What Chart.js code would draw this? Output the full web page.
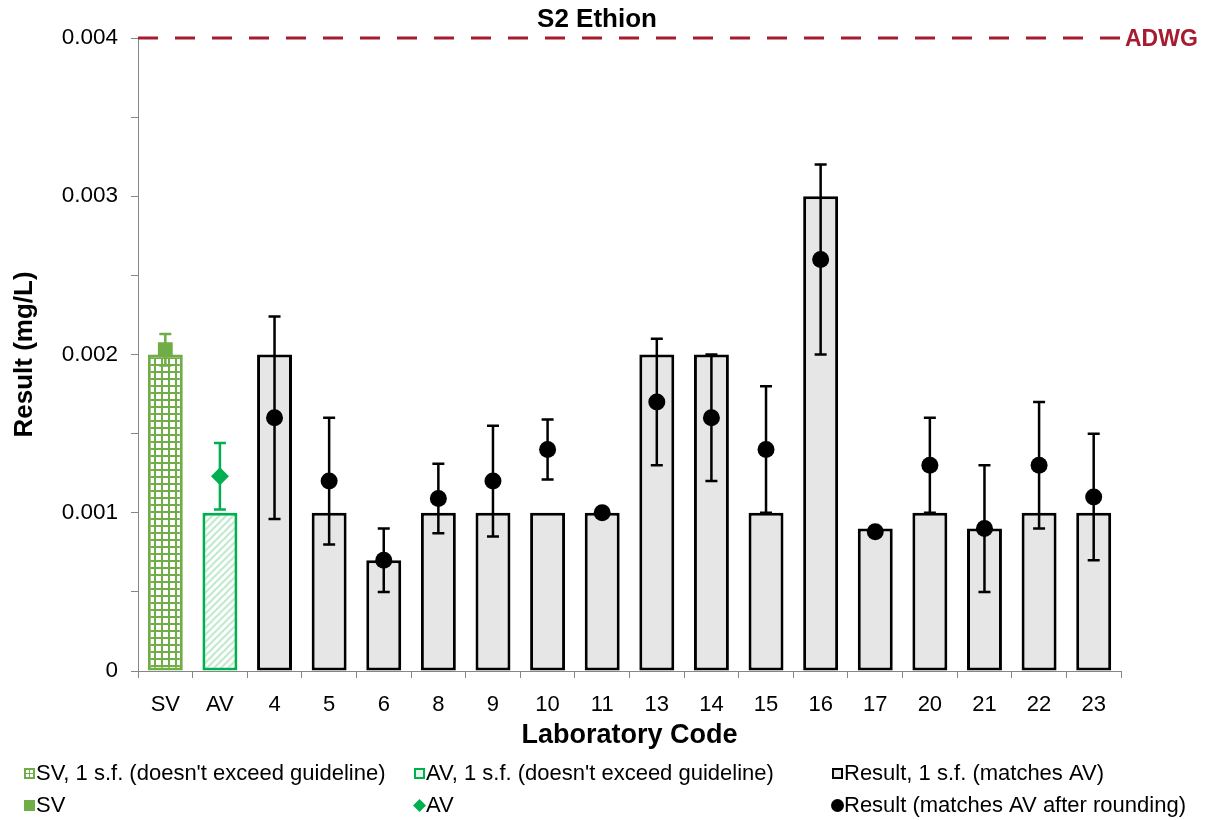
<!DOCTYPE html>
<html>
<head>
<meta charset="utf-8">
<title>S2 Ethion</title>
<script src="https://cdn.jsdelivr.net/npm/chart.js@4.4.1/dist/chart.umd.min.js"></script>
<style>
  html, body { margin: 0; padding: 0; background: #fff; }
  #wrap { width: 1208px; height: 820px; }
</style>
</head>
<body>
<div id="wrap"><canvas id="chart" width="1208" height="820"></canvas></div>
<script>
// --- data -----------------------------------------------------------------
const labCodes = ['4', '5', '6', '8', '9', '10', '11', '13', '14', '15', '16', '17', '20', '21', '22', '23'];
const categories = ['SV', 'AV', ...labCodes];

const svValue = 0.00203;
const svUncertainty = 0.0001;
const svRounded = 0.002;

const avValue = 0.00123;
const avUncertainty = 0.00021;
const avRounded = 0.001;

const labResults = [0.0016, 0.0012, 0.0007, 0.00109, 0.0012, 0.0014, 0.001, 0.0017, 0.0016, 0.0014, 0.0026, 0.00088, 0.0013, 0.0009, 0.0013, 0.0011];
const labRounded = [0.002, 0.001, 0.0007, 0.001, 0.001, 0.001, 0.001, 0.002, 0.002, 0.001, 0.003, 0.0009, 0.001, 0.0009, 0.001, 0.001];
const labUncertainty = [0.00064, 0.0004, 0.0002, 0.00022, 0.00035, 0.00019, null, 0.0004, 0.0004, 0.0004, 0.0006, null, 0.0003, 0.0004, 0.0004, 0.0004];

const adwg = 0.004;
const yTicks = [0, 0.001, 0.002, 0.003, 0.004];

// --- styles ---------------------------------------------------------------
const FONT = '"Liberation Sans", Arial, sans-serif';
const SV_GREEN = '#70AD47';
const AV_GREEN = '#00B050';
const ADWG_RED = '#A51C30';
const AXIS_GREY = '#868686';

Chart.defaults.font.family = FONT;
Chart.defaults.color = '#000';

const canvas = document.getElementById('chart');
const ctx = canvas.getContext('2d');

// green grid fill for the SV bar
function gridPattern() {
  const c = document.createElement('canvas');
  c.width = 7; c.height = 7;
  const g = c.getContext('2d');
  g.fillStyle = '#fff';
  g.fillRect(0, 0, 7, 7);
  g.fillStyle = SV_GREEN;
  g.fillRect(0, 0, 7, 2);
  g.fillRect(0, 0, 2, 7);
  return ctx.createPattern(c, 'repeat');
}

// light diagonal hatch for the AV bar
function hatchPattern() {
  const c = document.createElement('canvas');
  c.width = 7; c.height = 7;
  const g = c.getContext('2d');
  g.fillStyle = '#fff';
  g.fillRect(0, 0, 7, 7);
  g.strokeStyle = '#c3eacf';
  g.lineWidth = 2.2;
  g.beginPath();
  g.moveTo(-1, 8); g.lineTo(8, -1);
  g.moveTo(-1, 1); g.lineTo(1, -1);
  g.moveTo(6, 8); g.lineTo(8, 6);
  g.stroke();
  return ctx.createPattern(c, 'repeat');
}

const svFill = gridPattern();
const avFill = hatchPattern();

// place a value (or list of lab values) into the full category list
const atSV = v => categories.map((c, i) => (i === 0 ? v : null));
const atAV = v => categories.map((c, i) => (i === 1 ? v : null));
const atLabs = arr => [null, null, ...arr];

// --- plugins --------------------------------------------------------------
// vertical error bars with caps, drawn just under each point dataset
const errorBars = {
  id: 'errorBars',
  beforeDatasetDraw(chart, args) {
    const ds = chart.data.datasets[args.index];
    if (!ds.errors) return;
    const y = chart.scales.y;
    const c = chart.ctx;
    c.save();
    c.strokeStyle = ds.errorColor;
    c.lineWidth = 2.5;
    args.meta.data.forEach((pt, i) => {
      const v = ds.data[i];
      const e = ds.errors[i];
      if (v == null || e == null) return;
      const top = y.getPixelForValue(v + e);
      const bot = y.getPixelForValue(v - e);
      c.beginPath();
      c.moveTo(pt.x, top); c.lineTo(pt.x, bot);
      c.moveTo(pt.x - 6, top); c.lineTo(pt.x + 6, top);
      c.moveTo(pt.x - 6, bot); c.lineTo(pt.x + 6, bot);
      c.stroke();
    });
    c.restore();
  }
};

// guideline, title and the legend under the axis
const decorations = {
  id: 'decorations',
  afterDraw(chart) {
    const c = chart.ctx;
    const area = chart.chartArea;
    const yg = chart.scales.y.getPixelForValue(adwg);

    c.save();
    c.strokeStyle = ADWG_RED;
    c.lineWidth = 3;
    c.setLineDash([20, 17]);
    c.beginPath();
    c.moveTo(area.left, yg);
    c.lineTo(area.right, yg);
    c.stroke();
    c.setLineDash([]);

    c.fillStyle = ADWG_RED;
    c.font = 'bold 23px ' + FONT;
    c.textAlign = 'left';
    c.textBaseline = 'middle';
    c.fillText('ADWG', area.right + 4, yg + 2);

    c.fillStyle = '#000';
    c.font = 'bold 26px ' + FONT;
    c.textAlign = 'center';
    c.fillText('S2 Ethion', 597, 20);

    // legend
    c.font = '22px ' + FONT;
    c.textAlign = 'left';
    const rows = [774, 806];
    const cols = [24, 414, 832];
    const items = [
      { col: 0, row: 0, text: "SV, 1 s.f. (doesn't exceed guideline)", icon: 'svBar' },
      { col: 1, row: 0, text: "AV, 1 s.f. (doesn't exceed guideline)", icon: 'avBar' },
      { col: 2, row: 0, text: 'Result, 1 s.f. (matches AV)', icon: 'resBar' },
      { col: 0, row: 1, text: 'SV', icon: 'svPt' },
      { col: 1, row: 1, text: 'AV', icon: 'avPt' },
      { col: 2, row: 1, text: 'Result (matches AV after rounding)', icon: 'resPt' }
    ];
    items.forEach(it => {
      const x = cols[it.col];
      const y = rows[it.row];
      c.lineWidth = 2;
      if (it.icon === 'svBar') {
        c.fillStyle = SV_GREEN;
        c.fillRect(x, y - 6, 11, 11);
        c.fillStyle = '#fff';
        c.fillRect(x + 2, y - 4, 3, 3);
        c.fillRect(x + 6, y - 4, 3, 3);
        c.fillRect(x + 2, y, 3, 3);
        c.fillRect(x + 6, y, 3, 3);
      } else if (it.icon === 'avBar') {
        c.fillStyle = '#e3f6e9';
        c.fillRect(x + 1, y - 5, 9, 9);
        c.strokeStyle = AV_GREEN;
        c.strokeRect(x + 1, y - 5, 9, 9);
      } else if (it.icon === 'resBar') {
        c.fillStyle = '#e6e6e6';
        c.fillRect(x + 1, y - 5, 9, 9);
        c.strokeStyle = '#000';
        c.strokeRect(x + 1, y - 5, 9, 9);
      } else if (it.icon === 'svPt') {
        c.fillStyle = SV_GREEN;
        c.fillRect(x, y - 6, 11, 11);
      } else if (it.icon === 'avPt') {
        c.fillStyle = AV_GREEN;
        c.beginPath();
        c.moveTo(x + 5.5, y - 7); c.lineTo(x + 12, y - 0.5); c.lineTo(x + 5.5, y + 6); c.lineTo(x - 1, y - 0.5);
        c.closePath();
        c.fill();
      } else {
        c.fillStyle = '#000';
        c.beginPath();
        c.arc(x + 5.5, y - 0.5, 6.5, 0, Math.PI * 2);
        c.fill();
      }
      c.fillStyle = '#000';
      c.fillText(it.text, x + 12, y);
    });
    c.restore();
  }
};

// --- chart ----------------------------------------------------------------
const barCommon = {
  type: 'bar',
  grouped: false,
  barPercentage: 0.64,
  categoryPercentage: 1,
  borderSkipped: false,
  borderWidth: 3,
  order: 2
};

const pointCommon = {
  type: 'line',
  showLine: false,
  pointBorderWidth: 0,
  order: 0
};

new Chart(ctx, {
  data: {
    labels: categories,
    datasets: [
      { ...barCommon, label: "SV, 1 s.f. (doesn't exceed guideline)", data: atSV(svRounded), backgroundColor: svFill, borderColor: SV_GREEN },
      { ...barCommon, label: "AV, 1 s.f. (doesn't exceed guideline)", data: atAV(avRounded), backgroundColor: avFill, borderColor: AV_GREEN },
      { ...barCommon, label: 'Result, 1 s.f. (matches AV)', data: atLabs(labRounded), backgroundColor: '#e6e6e6', borderColor: '#000' },
      { ...pointCommon, label: 'SV', data: atSV(svValue), errors: atSV(svUncertainty), errorColor: SV_GREEN,
        pointStyle: 'rect', pointRadius: 10.5, pointBackgroundColor: SV_GREEN },
      { ...pointCommon, label: 'AV', data: atAV(avValue), errors: atAV(avUncertainty), errorColor: AV_GREEN,
        pointStyle: 'rectRot', pointRadius: 9, pointBackgroundColor: AV_GREEN },
      { ...pointCommon, label: 'Result (matches AV after rounding)', data: atLabs(labResults), errors: atLabs(labUncertainty), errorColor: '#000',
        pointStyle: 'circle', pointRadius: 8.5, pointBackgroundColor: '#000' }
    ]
  },
  options: {
    responsive: false,
    animation: false,
    devicePixelRatio: 1,
    layout: { padding: { top: 38, right: 87, bottom: 68, left: 0 } },
    plugins: {
      legend: { display: false },
      tooltip: { enabled: false },
      title: { display: false }
    },
    scales: {
      x: {
        type: 'category',
        offset: true,
        grid: { offset: true, drawOnChartArea: false, drawTicks: true, tickLength: 7, color: AXIS_GREY },
        border: { color: AXIS_GREY, width: 1 },
        ticks: { font: { size: 22 }, color: '#000', padding: 14, autoSkip: false, maxRotation: 0 },
        title: { display: true, text: 'Laboratory Code', font: { size: 27, weight: 'bold' }, color: '#000', padding: { top: 0, bottom: 0 } },
        afterFit(scale) { scale.height = 81; }
      },
      y: {
        min: 0,
        max: adwg,
        grid: { drawOnChartArea: false, drawTicks: true, tickLength: 7, color: AXIS_GREY },
        border: { color: AXIS_GREY, width: 1 },
        ticks: {
          stepSize: 0.0005,
          font: { size: 22.5 },
          color: '#000',
          padding: 13,
          callback(v) {
            const hit = yTicks.find(t => Math.abs(t - v) < 1e-9);
            if (hit === undefined) return '';
            return hit === 0 ? '0' : hit.toFixed(3);
          }
        },
        title: { display: true, text: 'Result (mg/L)', font: { size: 26, weight: 'bold' }, color: '#000', padding: { top: 9, bottom: 0 } },
        afterFit(scale) { scale.width = 138; }
      }
    }
  },
  plugins: [errorBars, decorations]
});
</script>
</body>
</html>
